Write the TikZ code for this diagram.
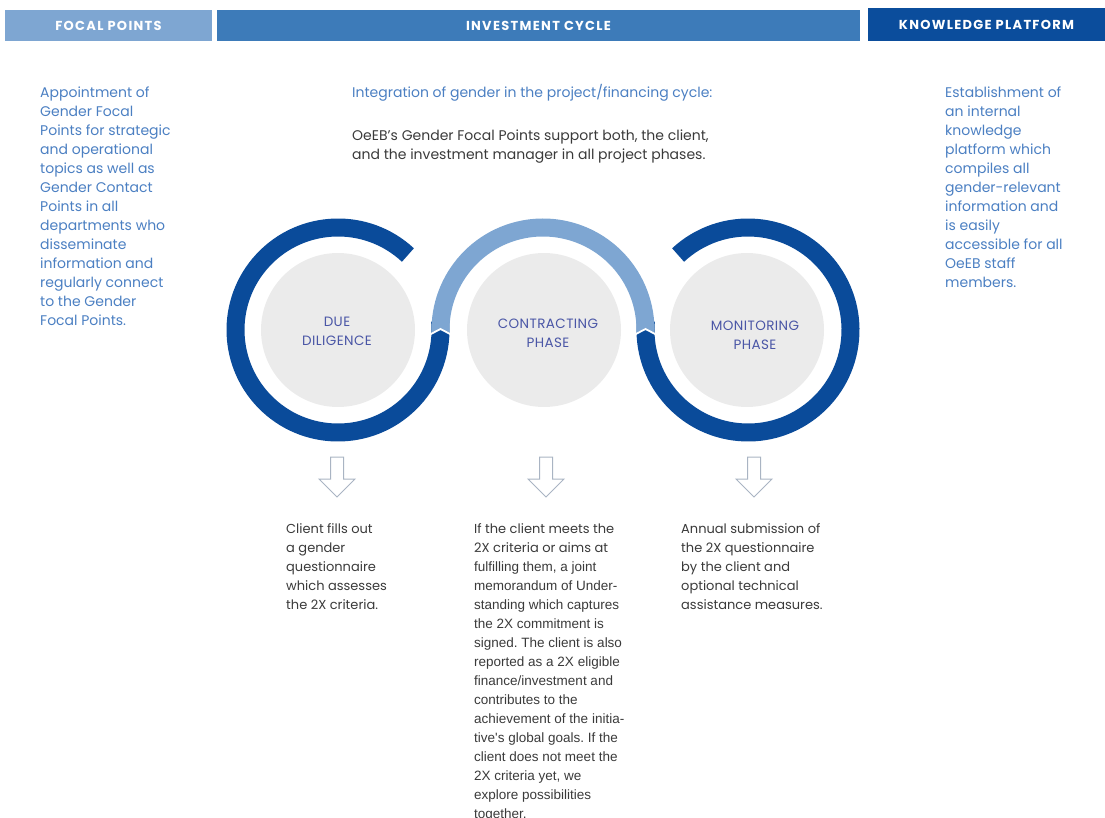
\documentclass[tikz,border=0pt]{standalone}
\usepackage{fontspec}
\setmainfont{Poppins}
\newfontfamily\arifont{Liberation Sans}
\newfontfamily\headfont[LetterSpace=10]{Poppins}
\newfontfamily\labfont[LetterSpace=3]{Poppins}
\usetikzlibrary{calc}
\definecolor{barlight}{HTML}{7EA6D2}
\definecolor{barmid}{HTML}{3D7BB9}
\definecolor{bardark}{HTML}{0B4D9C}
\definecolor{ringdark}{HTML}{0A4B9A}
\definecolor{ringlight}{HTML}{7EA6D2}
\definecolor{discgrey}{HTML}{EBEBEB}
\definecolor{bluetext}{HTML}{4B7FC2}
\definecolor{labeltext}{HTML}{4A56A6}
\definecolor{darktext}{HTML}{3A3A3A}
\definecolor{arrowline}{HTML}{A9B4C3}
\newcommand{\txtblock}[2]{\parbox[t]{#1}{\raggedright\frenchspacing #2}}
\begin{document}
\begin{tikzpicture}[x=1pt,y=1pt,
  bar/.style={rectangle, inner sep=0, text=white, font=\headfont\fontsize{13}{14}\selectfont\bfseries},
  coltext/.style={anchor=base west, inner sep=0, font=\fontsize{14}{19}\selectfont},
  lowtext/.style={anchor=base west, inner sep=0, font=\fontsize{13}{19}\selectfont},
  disc/.style={circle, fill=discgrey, minimum size=154, inner sep=0},
  disclabel/.style={align=center, inner sep=0, text=labeltext, font=\labfont\fontsize{13.5}{19}\selectfont},
  ringd/.style={draw=ringdark, line width=18},
  ringl/.style={draw=ringlight, line width=18},
  hollowarrow/.style={draw=arrowline, line width=1, fill=white, line join=miter},
]
\useasboundingbox (0,0) rectangle (1105,-818);

% header bars
\node[bar, fill=barlight, minimum width=207, minimum height=31] (hfocal) at (108.5,-25.5) {FOCAL POINTS};
\node[bar, fill=barmid, minimum width=643, minimum height=31] (hinvest) at (538.5,-25.5) {INVESTMENT CYCLE};
\node[bar, fill=bardark, minimum width=237, minimum height=33] (hknow) at (986.5,-24.5) {KNOWLEDGE PLATFORM};

% side columns
\node[coltext, text=bluetext] (focaltext) at (40,-98) {\txtblock{170pt}{Appointment of\\Gender Focal\\Points for strategic\\and operational\\topics as well as\\Gender Contact\\Points in all\\departments who\\disseminate\\information and\\regularly connect\\to the Gender\\Focal Points.}};
\node[coltext, text=bluetext] (knowtext) at (945,-98) {\txtblock{160pt}{Establishment of\\an internal\\knowledge\\platform which\\compiles all\\gender-relevant\\information and\\is easily\\accessible for all\\OeEB staff\\members.}};

% intro
\node[coltext, text=bluetext] (intro1) at (352,-98) {Integration of gender in the project/financing cycle:};
\node[coltext, text=darktext] (intro2) at (352,-141) {\txtblock{420pt}{OeEB's Gender Focal Points support both, the client,\\and the investment manager in all project phases.}};

% coordinates of ring centres
\coordinate (cL) at (338,-330);
\coordinate (cM) at (543,-330);
\coordinate (cR) at (748,-330);

% dark rings
\draw[ringd] ($(cL)+(47:102.5)$) arc[start angle=47, end angle=365, radius=102.5];
\draw[ringd] ($(cR)+(175:102.5)$) arc[start angle=175, end angle=493, radius=102.5];
% light arc clipped above the chevrons
\begin{scope}
  \clip (380,-150) -- (380,-335) -- (429,-335) -- (440.5,-329) -- (452,-335)
        -- (634,-335) -- (645.5,-329) -- (657,-335) -- (700,-335) -- (700,-150) -- cycle;
  \draw[ringl] ($(cM)+(188:102.5)$) arc[start angle=188, end angle=-8, radius=102.5];
\end{scope}
\draw[white, line width=1.8] (429,-335) -- (440.5,-329) -- (452,-335);
\draw[white, line width=1.8] (634,-335) -- (645.5,-329) -- (657,-335);

% grey discs
\node[disc] (dL) at (338,-330) {};
\node[disc] (dM) at (544,-330) {};
\node[disc] (dR) at (747,-330) {};
\node[disclabel] (lL) at (337,-331) {DUE\\DILIGENCE};
\node[disclabel] (lM) at (548,-333) {CONTRACTING\\PHASE};
\node[disclabel] (lR) at (755,-335) {MONITORING\\PHASE};

% hollow arrows
\foreach \c in {337,546,754}{
  \draw[hollowarrow] (\c-6.5,-457) -- (\c-6.5,-479) -- (\c-18,-479) -- (\c,-497)
    -- (\c+18,-479) -- (\c+6.5,-479) -- (\c+6.5,-457) -- cycle;
}

% bottom texts
\node[lowtext, text=darktext] (tL) at (286,-533) {\txtblock{150pt}{Client fills out\\a gender\\questionnaire\\which assesses\\the 2X criteria.}};
\node[lowtext, text=darktext] (tM) at (474,-533) {\txtblock{190pt}{If the client meets the\\2X criteria or aims at\\{\arifont\fontsize{13.5}{19}\selectfont fulfilling them, a joint\\memorandum of Under-\\standing which captures\\the 2X commitment is\\signed. The client is also\\reported as a 2X eligible\\finance/investment and\\contributes to the\\achievement of the initia-\\tive's global goals. If the\\client does not meet the\\2X criteria yet, we\\explore possibilities\\together.}}};
\node[lowtext, text=darktext] (tR) at (681,-533) {\txtblock{190pt}{Annual submission of\\the 2X questionnaire\\by the client and\\optional technical\\assistance measures.}};
\end{tikzpicture}
\end{document}
